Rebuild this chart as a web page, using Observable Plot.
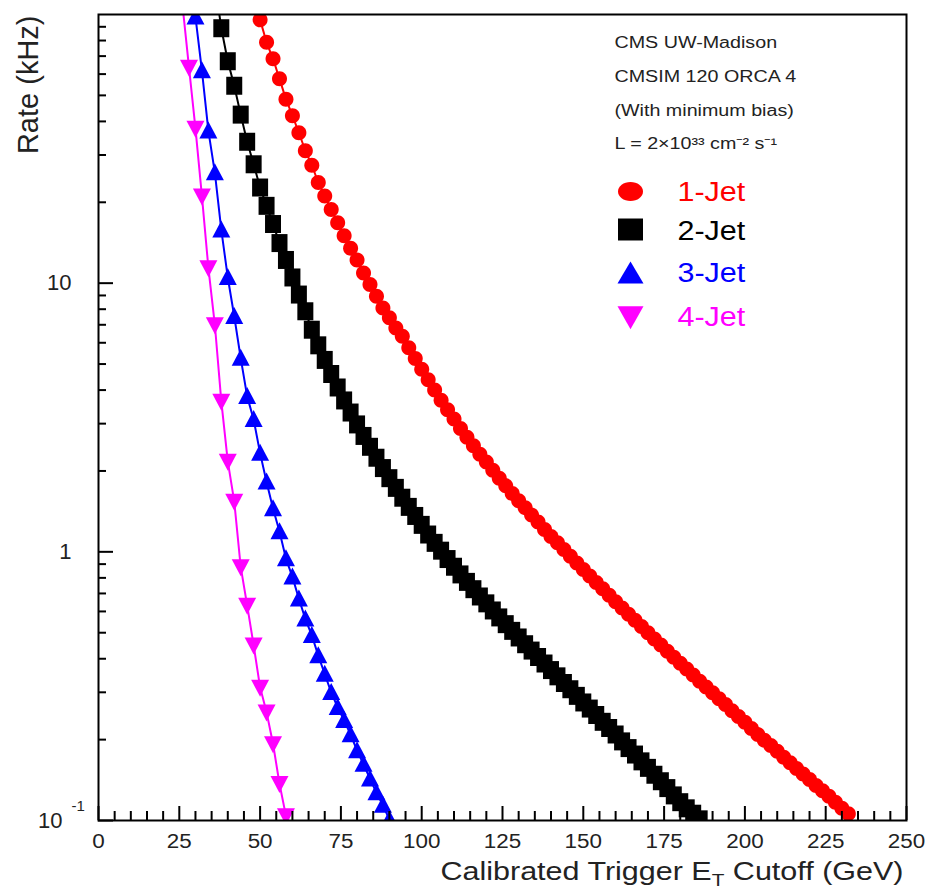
<!DOCTYPE html>
<html>
<head>
<meta charset="utf-8">
<script src="https://cdn.jsdelivr.net/npm/d3@7"></script>
<script src="https://cdn.jsdelivr.net/npm/@observablehq/plot@0.6"></script>
<style>
  body { margin: 0; background: #fff; }
  svg { display: block; }
</style>
</head>
<body>
<script>
// Trigger rate vs calibrated jet ET threshold, for 1- to 4-jet triggers.
const seriesNames = ["1-Jet", "2-Jet", "3-Jet", "4-Jet"];
const seriesColors = ["#ff0000", "#000000", "#0000ff", "#ff00ff"];

const jet1Et = [48, 50, 52, 54, 56, 58, 60, 62, 64, 66, 68, 70, 72, 74, 76, 78, 80, 82, 84, 86, 88, 90,
  92, 94, 96, 98, 100, 102, 104, 106, 108, 110, 112, 114, 116, 118, 120, 122, 124, 126, 128, 130,
  132, 134, 136, 138, 140, 142, 144, 146, 148, 150, 152, 154, 156, 158, 160, 162, 164, 166, 168, 170,
  172, 174, 176, 178, 180, 182, 184, 186, 188, 190, 192, 194, 196, 198, 200, 202, 204, 206, 208, 210,
  212, 214, 216, 218, 220, 222, 224, 226, 228, 230, 232];
const jet1Rate = [115, 95.5, 78.8, 68.4, 57.6, 48.4, 42.0, 36.3, 31.1, 27.5, 23.7, 21.1, 18.8, 16.8, 15.0, 13.5,
  12.2, 10.9, 9.88, 8.94, 8.08, 7.43, 6.81, 6.34, 5.75, 5.24, 4.78, 4.37, 4.00, 3.67, 3.38, 3.12, 2.88,
  2.67, 2.48, 2.31, 2.16, 2.01, 1.88, 1.76, 1.65, 1.55, 1.46, 1.37, 1.29, 1.21, 1.14, 1.08, 1.02, 0.962,
  0.908, 0.859, 0.813, 0.769, 0.728, 0.689, 0.652, 0.618, 0.586, 0.556, 0.527, 0.500, 0.474, 0.450,
  0.427, 0.405, 0.385, 0.366, 0.348, 0.330, 0.314, 0.299, 0.284, 0.270, 0.256, 0.244, 0.232, 0.220,
  0.209, 0.199, 0.190, 0.181, 0.172, 0.164, 0.156, 0.149, 0.142, 0.135, 0.129, 0.123, 0.117, 0.111, 0.106];

const jet2Et = [36, 38, 40, 42, 44, 46, 48, 50, 52, 54, 56, 58, 60, 62, 64, 66, 68, 70, 72, 74, 76, 78,
  80, 82, 84, 86, 88, 90, 92, 94, 96, 98, 100, 102, 104, 106, 108, 110, 112, 114, 116, 118, 120, 122,
  124, 126, 128, 130, 132, 134, 136, 138, 140, 142, 144, 146, 148, 150, 152, 154, 156, 158, 160, 162,
  164, 166, 168, 170, 172, 174, 176, 178, 180, 182, 184, 186];
const jet2Rate = [131, 88.9, 67.0, 54.3, 42.4, 33.6, 27.7, 22.7, 19.4, 16.6, 14.1, 12.2, 10.5, 9.07, 7.86, 6.71,
  5.87, 5.18, 4.59, 4.09, 3.66, 3.30, 2.98, 2.70, 2.46, 2.24, 2.05, 1.88, 1.73, 1.59, 1.47, 1.36, 1.26,
  1.16, 1.08, 1.01, 0.94, 0.88, 0.824, 0.773, 0.726, 0.682, 0.643, 0.605, 0.570, 0.538, 0.508, 0.480,
  0.453, 0.429, 0.406, 0.384, 0.363, 0.344, 0.325, 0.308, 0.291, 0.275, 0.261, 0.247, 0.233, 0.221,
  0.209, 0.197, 0.186, 0.176, 0.166, 0.157, 0.148, 0.140, 0.132, 0.124, 0.117, 0.111, 0.106, 0.101];

const jet3Et = [28, 30, 32, 34, 36, 38, 40, 42, 44, 46, 48, 50, 52, 54, 56, 58, 60, 62, 64, 66, 68, 70,
  72, 74, 76, 78, 80, 82, 84, 86, 88, 90];
const jet3Rate = [160, 98, 61.8, 36.9, 25.8, 15.8, 10.5, 7.53, 5.26, 3.79, 3.11, 2.33, 1.82, 1.45, 1.19, 0.944,
  0.807, 0.669, 0.563, 0.489, 0.411, 0.351, 0.300, 0.264, 0.236, 0.209, 0.182, 0.162, 0.143, 0.127,
  0.114, 0.101];

const jet4Et = [26, 28, 30, 32, 34, 36, 38, 40, 42, 44, 46, 48, 50, 52, 54, 56, 58];
const jet4Rate = [108, 63.6, 37.7, 21.1, 11.4, 7.0, 3.63, 2.17, 1.54, 0.879, 0.632, 0.449, 0.313, 0.253,
  0.193, 0.137, 0.104];

// Axis ticks and labels
const xMajorTicks = [0, 25, 50, 75, 100, 125, 150, 175, 200, 225, 250];
const xMinorTicks = [5, 10, 15, 20, 30, 35, 40, 45, 55, 60, 65, 70, 80, 85, 90, 95, 105, 110, 115, 120,
  130, 135, 140, 145, 155, 160, 165, 170, 180, 185, 190, 195, 205, 210, 215, 220, 230, 235, 240, 245];
const yMajorTicks = [0.1, 1, 10];
const yMinorTicks = [0.2, 0.3, 0.4, 0.5, 0.6, 0.7, 0.8, 0.9, 2, 3, 4, 5, 6, 7, 8, 9, 20, 30, 40, 50, 60, 70, 80, 90];
const yTickLabels = ["10", "1"];   // drawn at 10 and 1; 0.1 is written as a power of ten
const yPowerBase = "10";
const yPowerExp = "-1";

const noteLines = ["CMS UW-Madison", "CMSIM 120 ORCA 4", "(With minimum bias)", "L = 2×10³³ cm⁻² s⁻¹"];
const yTitle = "Rate (kHz)";
const xTitleParts = ["Calibrated Trigger E", "T", " Cutoff (GeV)"];

const series = [
  {name: seriesNames[0], color: seriesColors[0], et: jet1Et, rate: jet1Rate},
  {name: seriesNames[1], color: seriesColors[1], et: jet2Et, rate: jet2Rate},
  {name: seriesNames[2], color: seriesColors[2], et: jet3Et, rate: jet3Rate},
  {name: seriesNames[3], color: seriesColors[3], et: jet4Et, rate: jet4Rate}
];

// Marker shapes drawn at fixed pixel sizes (w × h)
function marker(kind, w, h) {
  const a = w / 2, b = h / 2, k = 0.5523;
  return {
    draw(c) {
      if (kind === "circle") {
        c.moveTo(a, 0);
        c.bezierCurveTo(a, k * b, k * a, b, 0, b);
        c.bezierCurveTo(-k * a, b, -a, k * b, -a, 0);
        c.bezierCurveTo(-a, -k * b, -k * a, -b, 0, -b);
        c.bezierCurveTo(k * a, -b, a, -k * b, a, 0);
      } else if (kind === "square") {
        c.moveTo(-a, -b); c.lineTo(a, -b); c.lineTo(a, b); c.lineTo(-a, b);
      } else if (kind === "up") {
        c.moveTo(0, -1.1 * b); c.lineTo(a, 0.9 * b); c.lineTo(-a, 0.9 * b);
      } else {
        c.moveTo(0, 1.1 * b); c.lineTo(a, -0.9 * b); c.lineTo(-a, -0.9 * b);
      }
      c.closePath();
    }
  };
}
const plotMarkers = [marker("circle", 15, 15), marker("square", 16, 18), marker("up", 18, 17), marker("down", 18, 17)];
const legendMarkers = [marker("circle", 25, 19), marker("square", 25, 22), marker("up", 26, 22), marker("down", 26, 23)];
const legendMarkerDy = [177, 215, 259, 302];
const legendLabelDy = [178, 217, 259, 303];

const W = 927, H = 890, ML = 98, MR = 21, MT = 14, MB = 70;
const FW = W - ML - MR, FH = H - MT - MB;
const font = "'Liberation Sans', Arial, Helvetica, sans-serif";
const ink = "#222";

const rows = series.map(s => s.et.map((et, i) => ({et, rate: s.rate[i]})));

const marks = [];
series.forEach((s, i) => {
  marks.push(Plot.line(rows[i], {x: "et", y: "rate", stroke: s.color, strokeWidth: 2, clip: true}));
  marks.push(Plot.dot(rows[i], {x: "et", y: "rate", symbol: plotMarkers[i], r: 7, fill: s.color, stroke: "none", clip: true}));
});

// Inward-pointing ticks
marks.push(
  Plot.tickX(xMinorTicks, {x: d => d, insetTop: FH - 9, stroke: "black", strokeWidth: 2}),
  Plot.tickX(xMajorTicks, {x: d => d, insetTop: FH - 14, stroke: "black", strokeWidth: 2}),
  Plot.tickY(yMinorTicks, {y: d => d, insetRight: FW - 8, stroke: "black", strokeWidth: 2}),
  Plot.tickY(yMajorTicks, {y: d => d, insetRight: FW - 15, stroke: "black", strokeWidth: 2}),
  Plot.frame({stroke: "black", strokeWidth: 2})
);

// Tick labels
marks.push(
  Plot.text(xMajorTicks, {x: d => d, frameAnchor: "bottom", dy: 21, lineAnchor: "middle", text: d => `${d}`,
    fontSize: 20, fill: ink, fontFamily: font}),
  Plot.text([10, 1], {y: d => d, frameAnchor: "left", dx: -27, textAnchor: "end",
    text: (d, i) => yTickLabels[i], fontSize: 22, fill: ink, fontFamily: font}),
  Plot.text([0.1], {y: d => d, frameAnchor: "left", dx: -36, textAnchor: "end",
    text: () => yPowerBase, fontSize: 22, fill: ink, fontFamily: font}),
  Plot.text([0.1], {y: d => d, frameAnchor: "left", dx: -27, dy: -14, textAnchor: "start",
    text: () => yPowerExp, fontSize: 15, fill: ink, fontFamily: font})
);

// Axis titles
marks.push(
  Plot.text([yTitle], {frameAnchor: "top-left", dx: -70, dy: 1, rotate: -90, textAnchor: "end",
    lineAnchor: "middle", text: d => d, fontSize: 29, fill: ink, fontFamily: font}),
  Plot.text([xTitleParts.join("")], {frameAnchor: "bottom-right", dx: -3, dy: 51, textAnchor: "end",
    lineAnchor: "middle", text: d => d, fontSize: 25, fill: ink, fontFamily: font})
);

// Notes and legend in the upper right corner
marks.push(
  Plot.text([noteLines.join("\n")], {frameAnchor: "top-left", dx: 516, dy: 10, textAnchor: "start",
    lineAnchor: "top", lineHeight: 2.1, text: d => d, fontSize: 16, fill: ink, fontFamily: font})
);
series.forEach((s, i) => {
  marks.push(
    Plot.dot([s.name], {frameAnchor: "top-right", dx: -276, dy: legendMarkerDy[i], symbol: legendMarkers[i],
      r: 10, fill: s.color, stroke: "none"}),
    Plot.text([s.name], {frameAnchor: "top-right", dx: -229, dy: legendLabelDy[i], textAnchor: "start",
      lineAnchor: "middle", text: d => d, fontSize: 27, fill: s.color, fontFamily: font})
  );
});

const chart = Plot.plot({
  width: W, height: H,
  marginLeft: ML, marginRight: MR, marginTop: MT, marginBottom: MB,
  style: {fontFamily: font, background: "white"},
  x: {domain: [0, 250], axis: null},
  y: {type: "log", domain: [0.1, 100], axis: null},
  marks
});
document.body.append(chart);

const texts = [...chart.querySelectorAll("text")];

// Subscript T in the x title
const xt = texts.find(t => t.textContent === xTitleParts.join(""));
if (xt) {
  xt.textContent = xTitleParts[0];
  const sub = document.createElementNS("http://www.w3.org/2000/svg", "tspan");
  sub.setAttribute("dy", "6"); sub.setAttribute("font-size", "17"); sub.textContent = xTitleParts[1];
  const rest = document.createElementNS("http://www.w3.org/2000/svg", "tspan");
  rest.setAttribute("dy", "-6"); rest.textContent = xTitleParts[2];
  xt.append(sub, rest);
}

// The lettering of this plot is set slightly wide
function widen(el, k) {
  const len = el.getComputedTextLength();
  el.setAttribute("textLength", (len * k).toFixed(1));
  el.setAttribute("lengthAdjust", "spacingAndGlyphs");
}
const xTickStrings = new Set(xMajorTicks.map(String));
texts.forEach(t => {
  if (t === xt) widen(t, 1.22);
  else if (xTickStrings.has(t.textContent)) widen(t, 1.12);
  else if (seriesNames.includes(t.textContent)) widen(t, 1.13);
  else if (t.querySelectorAll("tspan").length && noteLines.includes(t.querySelector("tspan").textContent)) {
    t.querySelectorAll("tspan").forEach(s => widen(s, 1.23));
  }
});
</script>
</body>
</html>
